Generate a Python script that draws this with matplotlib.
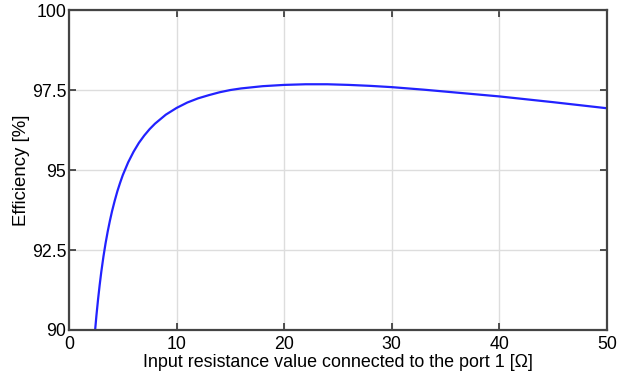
import numpy as np
import matplotlib
matplotlib.use('Agg')
import matplotlib.pyplot as plt

plt.rcParams['font.family'] = ['Liberation Sans', 'DejaVu Sans']

# values
resistance = [2.43, 2.55, 2.7, 2.85, 3.0, 3.2, 3.4, 3.6, 3.8, 4.0, 4.25, 4.5, 4.75,
              5.0, 5.5, 6.0, 6.5, 7.0, 7.5, 8.0, 9.0, 10, 11, 12, 13, 14, 15, 16,
              18, 20, 22, 24, 26, 28, 30, 33, 36, 40, 45, 50]
efficiency = [90.0, 90.45, 90.95, 91.4, 91.81, 92.29, 92.71, 93.08, 93.41, 93.71, 94.04,
              94.34, 94.6, 94.84, 95.24, 95.57, 95.85, 96.08, 96.28, 96.45, 96.73, 96.94,
              97.11, 97.24, 97.34, 97.43, 97.5, 97.55, 97.62, 97.66, 97.68, 97.68, 97.66,
              97.63, 97.59, 97.51, 97.42, 97.3, 97.12, 96.93]
xticks = [0, 10, 20, 30, 40, 50]
yticks = [90, 92.5, 95, 97.5, 100]
ytick_labels = ['90', '92.5', '95', '97.5', '100']

fig = plt.figure(figsize=(6.17, 3.8), dpi=100)
ax = fig.add_axes([0.1118, 0.1316, 0.872, 0.842])
ax.plot(resistance, efficiency, color='#2222ff', lw=1.6)

ax.set_xlim(0, 50)
ax.set_ylim(90, 100)
ax.set_xticks(xticks)
ax.set_yticks(yticks)
ax.set_yticklabels(ytick_labels)
ax.grid(True, color='#dddddd', lw=1)
ax.tick_params(direction='in', top=True, right=True, length=5, width=1.2,
               labelsize=12.8, color='#333333')
ax.tick_params(axis='x', pad=4)
ax.tick_params(axis='y', pad=2)
for s in ax.spines.values():
    s.set_color('#444444')
    s.set_linewidth(1.6)

ax.set_xlabel('Input resistance value connected to the port 1 [Ω]', fontsize=12.9, labelpad=1)
ax.set_ylabel('Efficiency [%]', fontsize=13.4, labelpad=1)

fig.savefig('out.png', dpi=100)
